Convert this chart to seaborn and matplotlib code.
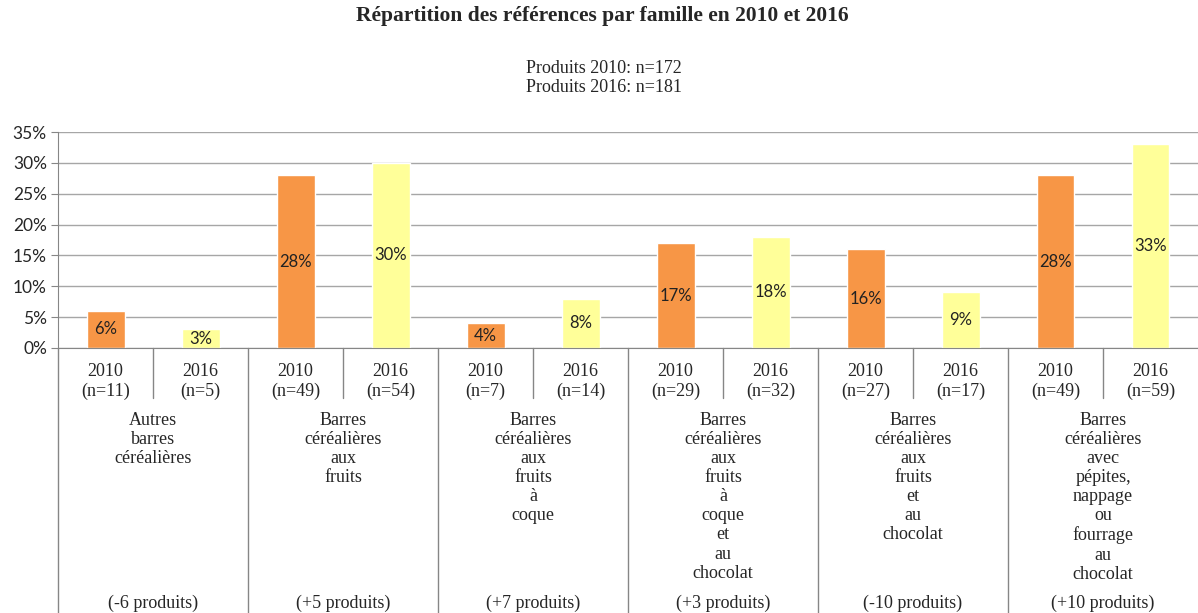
import pandas as pd
import seaborn as sns
import matplotlib.pyplot as plt
from matplotlib.transforms import blended_transform_factory

# data
familles = [
    "Autres\nbarres\ncéréalières",
    "Barres\ncéréalières\naux\nfruits",
    "Barres\ncéréalières\naux\nfruits\nà\ncoque",
    "Barres\ncéréalières\naux\nfruits\nà\ncoque\net\nau\nchocolat",
    "Barres\ncéréalières\naux\nfruits\net\nau\nchocolat",
    "Barres\ncéréalières\navec\npépites,\nnappage\nou\nfourrage\nau\nchocolat",
]
evolution = ["(-6 produits)", "(+5 produits)", "(+7 produits)",
             "(+3 produits)", "(-10 produits)", "(+10 produits)"]
pct_2010 = [6, 28, 4, 17, 16, 28]
pct_2016 = [3, 30, 8, 18, 9, 33]
n_2010 = [11, 49, 7, 29, 27, 49]
n_2016 = [5, 54, 14, 32, 17, 59]
annees = ["2010", "2016"]
couleurs = {"2010": "#F79646", "2016": "#FFFF99"}

rows = []
for i in range(len(familles)):
    rows.append({"slot": 2 * i, "annee": "2010", "pct": pct_2010[i], "n": n_2010[i]})
    rows.append({"slot": 2 * i + 1, "annee": "2016", "pct": pct_2016[i], "n": n_2016[i]})
df = pd.DataFrame(rows)

sns.set_style("white")
serif = ["Liberation Serif", "DejaVu Serif"]
sans = ["Lato", "DejaVu Sans"]

fig = plt.figure(figsize=(11.98, 6.13), dpi=100)
ax = fig.add_axes([58 / 1198, 1 - 348 / 613, 1140 / 1198, 216 / 613])

sns.barplot(data=df, x="slot", y="pct", hue="annee", palette=couleurs,
            dodge=False, width=0.4, ax=ax, legend=False, saturation=1)

ax.set_ylim(0, 35)
ax.set_xlim(-0.5, 11.5)
ax.set_yticks(range(0, 36, 5))
ax.set_yticklabels([f"{v}%" for v in range(0, 36, 5)], family=sans, fontsize=12.5)
ax.yaxis.grid(True, color="#A6A6A6", linewidth=1)
ax.set_axisbelow(True)
for s in ["top", "right"]:
    ax.spines[s].set_visible(False)
ax.spines["left"].set_color("#868686")
ax.spines["bottom"].set_color("#868686")
ax.tick_params(axis="y", length=5, color="#868686", pad=3, left=True)
ax.set_xlabel("")
ax.set_ylabel("")

labels = [f"{r.annee}\n(n={r.n})" for r in df.itertuples()]
ax.set_xticks(df["slot"])
ax.set_xticklabels(labels, family=serif, fontsize=13, linespacing=1.17)
ax.tick_params(axis="x", length=0, pad=11)

for r in df.itertuples():
    ax.text(r.slot, r.pct / 2, f"{r.pct}%", ha="center", va="center",
            family=sans, fontsize=12, color="#222222")

trans = blended_transform_factory(ax.transData, fig.transFigure)
y_axis = 1 - 348 / 613
for k in range(1, 12):
    if k % 2 == 0:
        ax.plot([k - 0.5, k - 0.5], [y_axis, 0], transform=trans,
                color="#868686", lw=1, clip_on=False)
    else:
        ax.plot([k - 0.5, k - 0.5], [y_axis, 1 - 398 / 613], transform=trans,
                color="#868686", lw=1, clip_on=False)
ax.plot([-0.5, -0.5], [y_axis, 0], transform=trans, color="#868686", lw=1, clip_on=False)

for i, (fam, ev) in enumerate(zip(familles, evolution)):
    ax.text(2 * i + 0.5, 1 - 412 / 613, fam, transform=trans, ha="center", va="top",
            family=serif, fontsize=13, linespacing=1.16)
    ax.text(2 * i + 0.5, 1 - 603 / 613, ev, transform=trans, ha="center", va="center",
            family=serif, fontsize=13)

fig.text(0.503, 1 - 16 / 613, "Répartition des références par famille en 2010 et 2016",
         ha="center", va="center", family=serif, fontsize=15.5, fontweight="bold")
fig.text(0.504, 1 - 78 / 613, "Produits 2010: n=172\nProduits 2016: n=181",
         ha="center", va="center", family=serif, fontsize=13, linespacing=1.1)

fig.savefig("out.png", dpi=100, facecolor="white")
